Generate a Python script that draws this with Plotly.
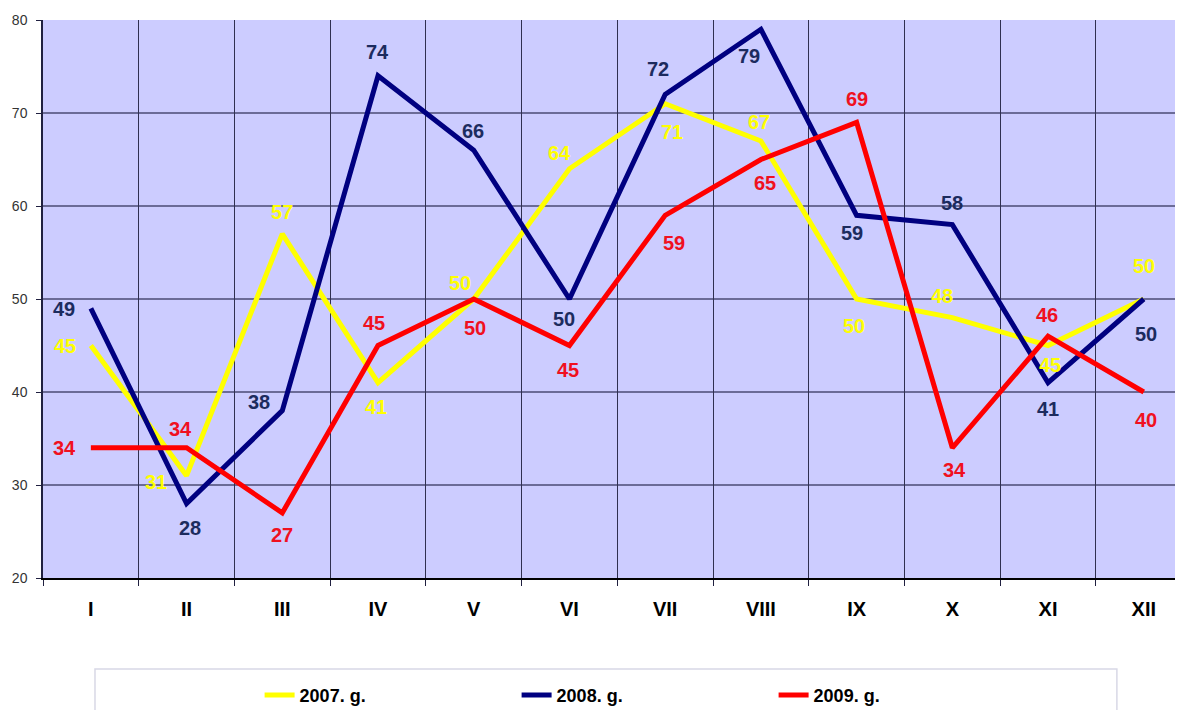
import plotly.graph_objects as go

months = ["I", "II", "III", "IV", "V", "VI", "VII", "VIII", "IX", "X", "XI", "XII"]
s2007 = [45, 31, 57, 41, 50, 64, 71, 67, 50, 48, 45, 50]
s2008 = [49, 28, 38, 74, 66, 50, 72, 79, 59, 58, 41, 50]
s2009 = [34, 34, 27, 45, 50, 45, 59, 65, 69, 34, 46, 40]
names = ["2007. g.", "2008. g.", "2009. g."]
yticks = [20, 30, 40, 50, 60, 70, 80]

# label offsets in pixels (dx right, dy down) -- styling only
off2007 = [(-26, 0), (-31, 6), (0, -22), (-2, 24), (-14, -16), (-10, -16),
           (7, 28), (-2, -19), (-3, 27), (-10, -22), (2, 19), (0, -33)]
off2008 = [(-27, 1), (3, 24), (-23, -9), (-1, -24), (-1, -19), (-5, 20),
           (-7, -25), (-12, 27), (-5, 18), (0, -22), (0, 26), (2, 35)]
off2009 = [(-26, 0), (-6, -19), (0, 22), (-4, -23), (1, 29), (-1, 24),
           (9, 28), (4, 23), (0, -23), (2, 22), (-1, -21), (2, 28)]

line_colors = ["#FFFF00", "#000080", "#FF0000"]
label_colors = ["#FFFF00", "#1C2B5E", "#F01020"]
series = [s2007, s2008, s2009]
offsets = [off2007, off2008, off2009]

xs = list(range(len(months)))
fig = go.Figure()
for vals, name, col in zip(series, names, line_colors):
    fig.add_trace(go.Scatter(x=xs, y=vals, mode="lines", name=name,
                             line=dict(color=col, width=5)))

annotations = []
for vals, offs, lc in zip(series, offsets, label_colors):
    for i, (v, (dx, dy)) in enumerate(zip(vals, offs)):
        annotations.append(dict(x=i, y=v, xref="x", yref="y", text=str(v),
                                showarrow=False, xshift=dx, yshift=-dy,
                                font=dict(family="Liberation Sans, Arial", size=20,
                                          color=lc, weight="bold")))

shapes = []
for t in yticks[1:-1]:
    shapes.append(dict(type="line", xref="paper", yref="y", x0=0, x1=1, y0=t, y1=t,
                       line=dict(color="#0A0A30", width=1.2), layer="below"))
shapes.append(dict(type="rect", xref="paper", yref="paper", x0=0.0456, x1=0.942,
                   y0=-0.163, y1=-0.40, line=dict(color="#D8D8E6", width=1.5),
                   fillcolor="rgba(0,0,0,0)"))

fig.update_layout(
    width=1175, height=702,
    margin=dict(l=35, r=0, t=12, b=132, autoexpand=False),
    paper_bgcolor="white",
    plot_bgcolor="#CCCCFF",
    showlegend=True,
    legend=dict(orientation="h", x=0.19, y=-0.21, xanchor="left", yanchor="middle",
                entrywidth=212, entrywidthmode="pixels",
                font=dict(family="Liberation Sans, Arial", size=18, color="black",
                          weight="bold"),
                bgcolor="rgba(0,0,0,0)", borderwidth=0),
    annotations=annotations,
    shapes=shapes,
    xaxis=dict(range=[-0.5, 11.41], tickmode="array", tickvals=xs, ticktext=months,
               showgrid=False, zeroline=False, ticks="", automargin=False,
               ticklabelstandoff=12,
               showline=True, linecolor="black", linewidth=1.5,
               tickfont=dict(family="Liberation Sans, Arial", size=20, color="black",
                             weight="bold"),
               minor=dict(tick0=-0.5, dtick=1, ticks="outside", ticklen=6,
                          tickcolor="#202040", tickwidth=1.2, showgrid=True,
                          gridcolor="#303050", gridwidth=1.3)),
    yaxis=dict(range=[20, 80], tickmode="array", tickvals=yticks, showgrid=False,
               zeroline=False, ticks="outside", ticklen=5, tickcolor="#202040",
               automargin=False, ticklabelstandoff=6,
               showline=True, linecolor="#202040", linewidth=1.5,
               tickfont=dict(family="Liberation Sans, Arial", size=14, color="#333333")),
)

fig.write_html("out.html")
